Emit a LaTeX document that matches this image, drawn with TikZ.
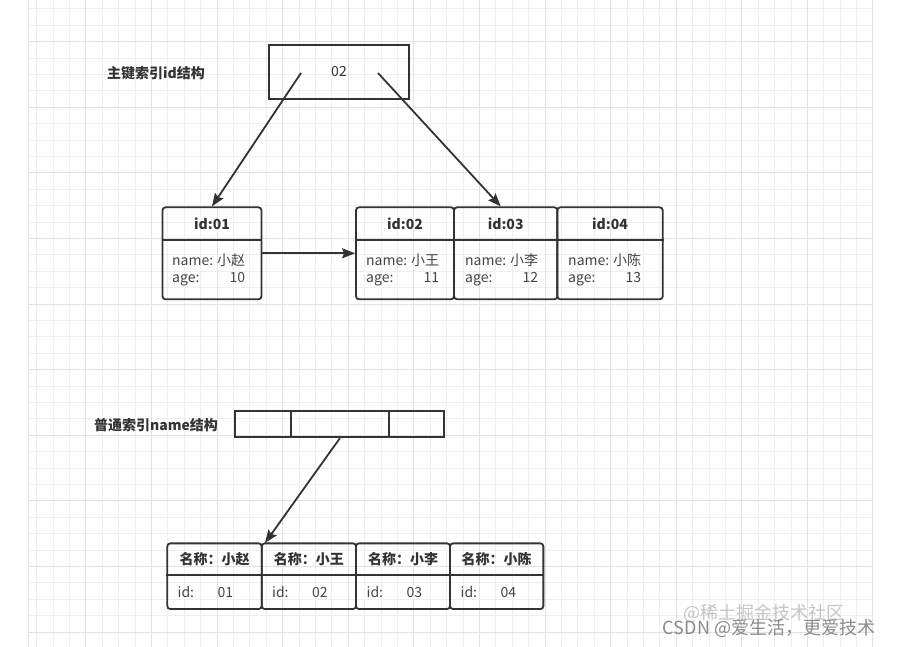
\documentclass[tikz,border=0pt]{standalone}
\usepackage{fontspec}
\setmainfont{Noto Sans CJK SC}
\usetikzlibrary{arrows.meta, positioning}
\definecolor{linec}{HTML}{333333}
\definecolor{txtc}{HTML}{444444}
\definecolor{gridminor}{HTML}{EFEFEF}
\definecolor{gridmajor}{HTML}{E2E2E2}
\definecolor{wmlight}{HTML}{C4C4C4}
\definecolor{wmdark}{HTML}{8A8A8A}

\begin{document}
\begin{tikzpicture}[x=1pt, y=-1pt, >={Stealth[length=13pt, width=10pt, inset=2pt]},
      every node/.style={font=\fontsize{14}{17}\selectfont, text=txtc},
      box/.style={draw=linec, line width=1.8pt, inner sep=0pt},
      rec/.style={draw=linec, line width=1.8pt, rounded corners=3pt, inner sep=0pt},
      hd/.style={font=\fontsize{14}{17}\selectfont\bfseries, text=linec},
      bd/.style={anchor=west, inner sep=0pt, align=left},
      lbl/.style={font=\fontsize{14}{17}\selectfont\bfseries, text=linec},
      link/.style={->, draw=linec, line width=1.8pt},
      wm/.style={font=\fontsize{18}{20}\selectfont, inner sep=0pt}]

    \useasboundingbox (0,0) rectangle (901,647);

    % background grid
    \begin{scope}
      \clip (28,0) rectangle (872,647);
      \foreach \k in {-3,...,47}
        \draw[gridminor, line width=0.8pt] ({85.7+16.4*\k},0) -- ({85.7+16.4*\k},647);
      \foreach \k in {-18,...,20}
        \draw[gridminor, line width=0.8pt] (28,{304+16.4*\k}) -- (872,{304+16.4*\k});
      \foreach \k in {0,4,...,44}
        \draw[gridmajor, line width=0.8pt] ({85.7+16.4*\k},0) -- ({85.7+16.4*\k},647);
      \foreach \k in {-16,-12,...,20}
        \draw[gridmajor, line width=0.8pt] (28,{304+16.4*\k}) -- (872,{304+16.4*\k});
    \end{scope}
    \draw[gridmajor, line width=0.8pt] (28,0) -- (28,647);
    \draw[gridmajor, line width=0.8pt] (872,0) -- (872,647);

    % primary key index
    \node[lbl] (pklbl) at (156,73) {主键索引id结构};
    \node[box, minimum width=140pt, minimum height=54pt, text=linec] (root) at (339,72) {02};
    \coordinate (rootL) at (301,73);
    \coordinate (rootR) at (378,73);

    \node[rec, minimum width=99pt, minimum height=92pt] (id01) at (212,253.3) {};
    \node[rec, minimum width=98pt, minimum height=92pt] (id02) at (405,253.3) {};
    \node[rec, minimum width=103.3pt, minimum height=92pt] (id03) at (505.7,253.3) {};
    \node[rec, minimum width=105.4pt, minimum height=92pt] (id04) at (610,253.3) {};
    \draw[linec, line width=1.8pt] ([yshift=-33.4pt]id01.north west) -- ([yshift=-33.4pt]id01.north east);
    \draw[linec, line width=1.8pt] ([yshift=-33.4pt]id02.north west) -- ([yshift=-33.4pt]id04.north east);

    \node[hd] (id01h) at (212,224) {id:01};
    \node[hd] (id02h) at (405,224) {id:02};
    \node[hd] (id03h) at (505.7,224) {id:03};
    \node[hd] (id04h) at (610,224) {id:04};

    \node[bd] (id01b) at (172,270.5) {\begin{tabular}{@{}l@{\hspace{4pt}}r@{}}name: & 小赵\\ age: & 10\end{tabular}};
    \node[bd] (id02b) at (366,270.5) {\begin{tabular}{@{}l@{\hspace{4pt}}r@{}}name: & 小王\\ age: & 11\end{tabular}};
    \node[bd] (id03b) at (465,270.5) {\begin{tabular}{@{}l@{\hspace{4pt}}r@{}}name: & 小李\\ age: & 12\end{tabular}};
    \node[bd] (id04b) at (568,270.5) {\begin{tabular}{@{}l@{\hspace{4pt}}r@{}}name: & 小陈\\ age: & 13\end{tabular}};

    \draw[link] (rootL) -- (id01.north);
    \draw[link] (rootR) -- ([xshift=-5pt]id03.north);
    \draw[link] (id01) -- (id02);

    % secondary index on name
    \node[lbl] (nmlbl) at (156,425) {普通索引name结构};
    \node[box, minimum width=55.7pt, minimum height=26.7pt] (bar1) at (262.85,424) {};
    \node[box, minimum width=98.3pt, minimum height=26.7pt] (bar2) at (339.85,424) {};
    \node[box, minimum width=55pt, minimum height=26.7pt] (bar3) at (416.5,424) {};

    \node[rec, minimum width=94.4pt, minimum height=65.7pt] (n1) at (214.5,576.2) {};
    \node[rec, minimum width=94.3pt, minimum height=65.7pt] (n2) at (308.9,576.2) {};
    \node[rec, minimum width=94pt, minimum height=65.7pt] (n3) at (403,576.2) {};
    \node[rec, minimum width=93.3pt, minimum height=65.7pt] (n4) at (496.7,576.2) {};
    \draw[linec, line width=1.8pt] ([yshift=-32.4pt]n1.north west) -- ([yshift=-32.4pt]n4.north east);

    \node[hd] (n1h) at (214.5,559.5) {名称：小赵};
    \node[hd] (n2h) at (308.9,559.5) {名称：小王};
    \node[hd] (n3h) at (403,559.5) {名称：小李};
    \node[hd] (n4h) at (496.7,559.5) {名称：小陈};

    \node[bd] (n1b) at (177.5,592.4) {\makebox[40pt][l]{id:}01};
    \node[bd] (n2b) at (272,592.4) {\makebox[40pt][l]{id:}02};
    \node[bd] (n3b) at (366.5,592.4) {\makebox[40pt][l]{id:}03};
    \node[bd] (n4b) at (460.5,592.4) {\makebox[40pt][l]{id:}04};

    \coordinate (n1tip) at (265,543);
    \draw[link] (bar2.south) -- (n1tip);

    % watermarks
    \node[wm, text=wmlight] (wmA) at (764,613) {@稀土掘金技术社区};
    \node[wm, text=wmdark] (wmB) at (769,628) {CSDN @爱生活，更爱技术};

\end{tikzpicture}
\end{document}
